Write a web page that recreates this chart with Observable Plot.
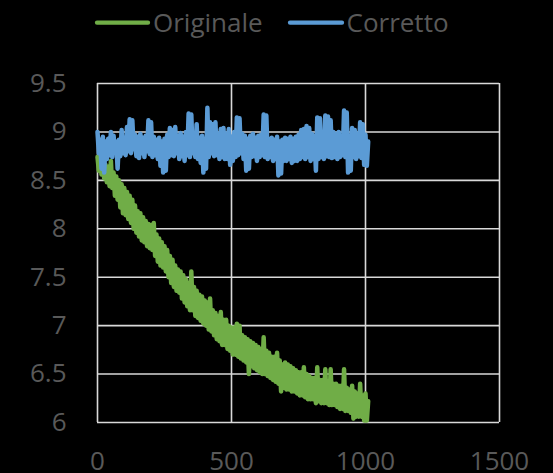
<!DOCTYPE html>
<html>
<head>
<meta charset="utf-8">
<script src="https://cdn.jsdelivr.net/npm/d3@7"></script>
<script src="https://cdn.jsdelivr.net/npm/@observablehq/plot@0.6"></script>
<style>
  html, body { margin: 0; padding: 0; background: #000; }
  #wrap { width: 553px; height: 473px; background: #000; overflow: hidden; }
  #legend { display: block; }
  #chart svg { display: block; }
</style>
</head>
<body>
<div id="wrap">
  <div id="legend"></div>
  <div id="chart"></div>
</div>
<script>
const seriesNames = ["Originale", "Corretto"];
const seriesColors = ["#70AD47", "#5B9BD5"];
const sampleStep = 5;
const xTicks = [0, 500, 1000, 1500];
const yTicks = [6, 6.5, 7, 7.5, 8, 8.5, 9, 9.5];

const originale = [
  8.74, 8.6, 8.72, 8.56, 8.7, 8.52, 8.66, 8.48, 8.64, 8.44,
  8.7, 8.42, 8.58, 8.34, 8.54, 8.3, 8.5, 8.22, 8.46, 8.16,
  8.42, 8.14, 8.38, 8.1, 8.34, 8.06, 8.3, 8.0, 8.24, 7.96,
  8.18, 7.92, 8.16, 7.88, 8.12, 7.86, 8.08, 7.82, 8.05, 7.8,
  8.04, 7.78, 8.06, 7.72, 7.94, 7.66, 7.9, 7.62, 7.86, 7.6,
  7.82, 7.56, 7.78, 7.5, 7.72, 7.44, 7.68, 7.4, 7.62, 7.36,
  7.58, 7.34, 7.56, 7.28, 7.52, 7.24, 7.48, 7.2, 7.44, 7.16,
  7.56, 7.16, 7.4, 7.1, 7.36, 7.08, 7.32, 7.05, 7.3, 7.02,
  7.26, 7.0, 7.24, 6.96, 7.28, 6.94, 7.16, 6.9, 7.13, 6.86,
  7.1, 6.84, 7.14, 6.8, 7.06, 6.8, 7.06, 6.76, 7.0, 6.74,
  6.98, 6.7, 6.98, 6.7, 7.02, 6.68, 7.0, 6.66, 6.9, 6.64,
  6.88, 6.62, 6.86, 6.5, 6.84, 6.58, 6.82, 6.56, 6.8, 6.54,
  6.78, 6.52, 6.76, 6.5, 6.88, 6.5, 6.74, 6.48, 6.72, 6.46,
  6.68, 6.44, 6.68, 6.42, 6.72, 6.4, 6.64, 6.32, 6.6, 6.36,
  6.62, 6.34, 6.6, 6.34, 6.58, 6.32, 6.56, 6.32, 6.54, 6.3,
  6.52, 6.28, 6.52, 6.28, 6.57, 6.26, 6.5, 6.24, 6.48, 6.24,
  6.46, 6.24, 6.46, 6.2, 6.57, 6.22, 6.44, 6.2, 6.44, 6.2,
  6.55, 6.2, 6.42, 6.18, 6.55, 6.18, 6.4, 6.18, 6.4, 6.16,
  6.38, 6.14, 6.38, 6.14, 6.55, 6.12, 6.36, 6.12, 6.34, 6.1,
  6.38, 6.04, 6.32, 6.06, 6.3, 6.06, 6.4, 6.06, 6.28, 6.02,
  6.3, 6.02, 6.22
];

const corretto = [
  9.0, 8.78, 8.92, 8.62, 8.95, 8.58, 8.9, 8.72, 8.93, 8.76,
  9.0, 8.74, 8.96, 8.8, 8.9, 8.62, 8.92, 8.75, 9.02, 8.78,
  8.94, 8.76, 9.05, 8.8, 9.13, 8.78, 9.12, 8.82, 8.97, 8.75,
  8.95, 8.73, 8.98, 8.78, 8.94, 8.74, 8.96, 8.8, 9.12, 8.77,
  9.1, 8.74, 8.95, 8.76, 8.92, 8.72, 8.94, 8.65, 8.9, 8.58,
  8.93, 8.6, 8.97, 8.74, 9.04, 8.76, 9.02, 8.75, 9.05, 8.78,
  8.96, 8.72, 8.99, 8.75, 8.95, 8.7, 9.0, 8.76, 9.19, 8.74,
  9.18, 8.78, 8.95, 8.74, 9.08, 8.72, 8.94, 8.68, 8.96, 8.58,
  8.93, 8.62, 9.25, 8.74, 9.1, 8.78, 9.08, 8.75, 9.1, 8.76,
  8.98, 8.72, 9.03, 8.74, 9.04, 8.72, 8.98, 8.72, 9.03, 8.66,
  8.95, 8.7, 9.0, 8.74, 9.15, 8.76, 9.14, 8.78, 8.98, 8.72,
  8.96, 8.6, 8.93, 8.62, 8.96, 8.74, 8.98, 8.75, 8.94, 8.7,
  8.96, 8.74, 8.97, 8.76, 9.18, 8.74, 9.17, 8.72, 8.93, 8.74,
  8.94, 8.7, 8.92, 8.72, 8.95, 8.55, 8.9, 8.57, 8.92, 8.7,
  8.94, 8.7, 8.93, 8.72, 8.95, 8.68, 8.93, 8.7, 8.95, 8.7,
  8.97, 8.72, 9.02, 8.74, 9.03, 8.72, 9.06, 8.74, 9.04, 8.7,
  8.98, 8.72, 8.96, 8.6, 9.15, 8.72, 9.14, 8.74, 8.98, 8.72,
  9.17, 8.75, 9.16, 8.74, 9.12, 8.73, 9.0, 8.74, 8.98, 8.72,
  9.0, 8.74, 8.96, 8.76, 9.22, 8.74, 9.2, 8.58, 8.96, 8.6,
  9.04, 8.74, 9.02, 8.72, 8.98, 8.75, 9.1, 8.73, 9.08, 8.66,
  8.97, 8.65, 8.9
];

// ---- build tables ----
const toRows = (vals, name) => vals.map((v, i) => ({x: i * sampleStep, y: v, series: name}));
const rowsOrig = toRows(originale, seriesNames[0]);
const rowsCorr = toRows(corretto, seriesNames[1]);

const FONT = "'Open Sans', 'Noto Sans', sans-serif";
const TEXT = "#595959";
const GRID = "#d9d9d9";

// ---- legend (HTML-side, above the plot SVG) ----
const legendItems = [
  {name: seriesNames[0], color: seriesColors[0], x0: 97, x1: 148, tx: 153},
  {name: seriesNames[1], color: seriesColors[1], x0: 290, x1: 342, tx: 346.5}
];
const leg = d3.create("svg").attr("width", 553).attr("height", 44)
  .style("display", "block").style("background", "#000");
const g = leg.selectAll("g").data(legendItems).join("g");
g.append("line")
  .attr("x1", d => d.x0).attr("x2", d => d.x1)
  .attr("y1", 22.7).attr("y2", 22.7)
  .attr("stroke", d => d.color).attr("stroke-width", 4.3)
  .attr("stroke-linecap", "round");
g.append("text")
  .attr("x", d => d.tx).attr("y", 32)
  .attr("fill", TEXT)
  .style("font-family", FONT).style("font-size", "26px")
  .text(d => d.name);
document.getElementById("legend").appendChild(leg.node());

// ---- plot ----
const chart = Plot.plot({
  width: 553,
  height: 429,
  marginTop: 39,
  marginLeft: 97,
  marginRight: 54,
  marginBottom: 51,
  style: {background: "#000", color: TEXT, fontFamily: FONT, fontSize: "26px", overflow: "visible"},
  x: {domain: [0, 1500], label: null},
  y: {domain: [6, 9.5], label: null},
  marks: [
    Plot.gridX(xTicks, {stroke: GRID, strokeOpacity: 1, strokeWidth: 1.6}),
    Plot.gridY(yTicks, {stroke: GRID, strokeOpacity: 1, strokeWidth: 1.6}),
    Plot.axisX(xTicks, {tickSize: 0, tickPadding: 29, label: null, fill: TEXT, tickFormat: d => String(d)}),
    Plot.axisY(yTicks, {tickSize: 0, tickPadding: 31, label: null, fill: TEXT, tickFormat: d => String(d)}),
    Plot.line(rowsOrig, {x: "x", y: "y", stroke: seriesColors[0], strokeWidth: 4.5, strokeLinejoin: "round", strokeLinecap: "round"}),
    Plot.line(rowsCorr, {x: "x", y: "y", stroke: seriesColors[1], strokeWidth: 4.5, strokeLinejoin: "round", strokeLinecap: "round"})
  ]
});
document.getElementById("chart").appendChild(chart);
</script>
</body>
</html>
